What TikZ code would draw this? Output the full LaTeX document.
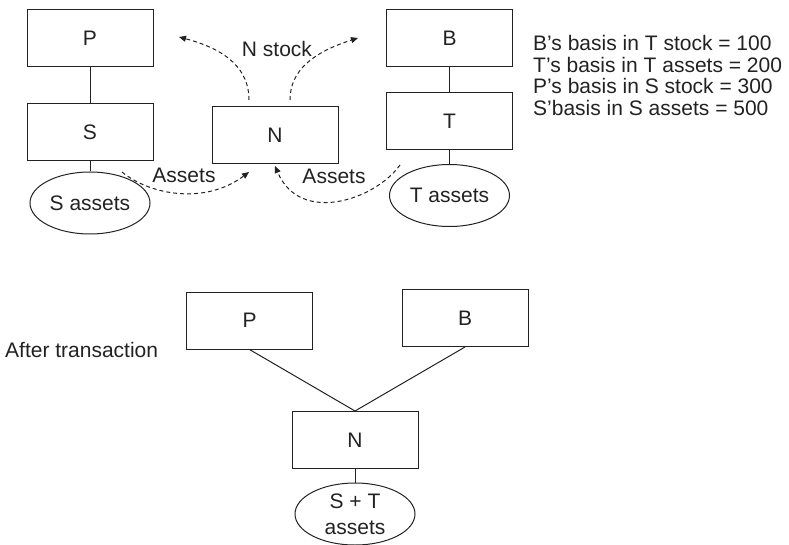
\documentclass[tikz,border=0pt]{standalone}
\usepackage{fontspec}
\setmainfont{Liberation Sans}
\usetikzlibrary{arrows.meta,shapes.geometric}
\definecolor{ink}{HTML}{222222}
\begin{document}
\begin{tikzpicture}[x=1pt,y=-1pt,
  every node/.style={font=\fontsize{21}{24}\selectfont, text=ink},
  box/.style={draw=ink, line width=1pt, minimum width=126pt, minimum height=57pt, inner sep=0pt},
  oval/.style={draw=ink, line width=1pt, ellipse, minimum width=120pt, minimum height=62pt, inner sep=0pt, align=center},
  link/.style={draw=ink, line width=1pt},
  flow/.style={draw=ink, line width=1pt, dash pattern=on 4pt off 3pt, -{Triangle[length=7pt,width=6pt]}},
  lbl/.style={inner sep=0pt, anchor=base}]
\useasboundingbox (0,0) rectangle (789,545);

% before
\node[box] (P) at (90,38) {P};
\node[box] (S) at (90,132) {S};
\node[oval] (Sa) at (90,203) {S assets};
\node[box] (N) at (275,135.5) {N};
\node[box] (B) at (449.5,38) {B};
\node[box] (T) at (449.5,121.5) {T};
\node[oval] (Ta) at (449.5,195.5) {T assets};

\draw[link] (P) -- (S);
\draw[link] (S) -- (Sa);
\draw[link] (B) -- (T);
\draw[link] (T) -- (Ta);

\coordinate (nsl0) at (249,100);
\coordinate (nsl1) at (179,37);
\coordinate (nsr0) at (290,100);
\coordinate (nsr1) at (358,38);
\coordinate (sa0) at (122,172);
\coordinate (sa1) at (249,172);
\coordinate (ta0) at (400,165);
\coordinate (ta1) at (275,166);

\draw[flow] (nsl0) .. controls (249,70) and (228,50) .. (nsl1);
\draw[flow] (nsr0) .. controls (290,70) and (314,52) .. (nsr1);
\draw[flow] (sa0) .. controls (150,195) and (205,205) .. (sa1);
\draw[flow] (ta0) .. controls (375,200) and (300,225) .. (ta1);

\node[lbl] (nst) at (277,57) {N stock};
\node[lbl] (as1) at (184,183) {Assets};
\node[lbl] (as2) at (334,184) {Assets};

\node[inner sep=0pt, anchor=base west] (t1) at (533,51) {B’s basis in T stock = 100};
\node[inner sep=0pt, anchor=base west] (t2) at (533,72.5) {T’s basis in T assets = 200};
\node[inner sep=0pt, anchor=base west] (t3) at (533,94) {P’s basis in S stock = 300};
\node[inner sep=0pt, anchor=base west] (t4) at (533,115.5) {S’basis in S assets = 500};

% after
\node[inner sep=0pt, anchor=base west] (after) at (5,357.5) {After transaction};
\node[box] (P2) at (249.5,320.5) {P};
\node[box] (B2) at (465,318) {B};
\node[box] (N2) at (355,440) {N};
\node[oval, font=\fontsize{21}{26}\selectfont] (STa) at (355,514) {S + T\\assets};

\draw[link] (P2.south) -- (N2.north);
\draw[link] (B2.south) -- (N2.north);
\draw[link] (N2) -- (STa);
\end{tikzpicture}
\end{document}
